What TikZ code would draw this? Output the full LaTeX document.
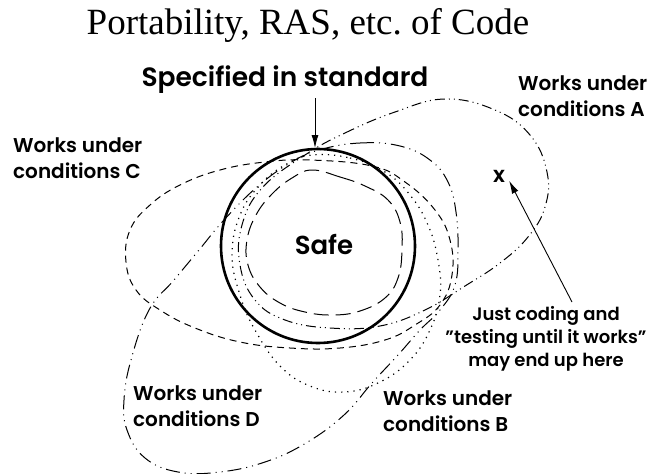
\documentclass[tikz,border=0pt]{standalone}
\usepackage{fontspec}
\setmainfont{Liberation Serif}
\newfontfamily\lblfont{Poppins SemiBold}
\usetikzlibrary{arrows.meta,positioning}

\begin{document}
\begin{tikzpicture}[x=1pt, y=-1pt,
    lbl/.style={font=\lblfont\fontsize{20}{26}\selectfont, align=left, inner sep=0pt},
    arrow/.style={-{Latex[length=13pt,width=7pt]}, line width=0.9pt},
    stdline/.style={line width=2.6pt},
    safeline/.style={line width=1pt, dash pattern=on 15pt off 7pt},
    lineA/.style={line width=1pt, dash pattern=on 10pt off 4pt on 1pt off 4pt on 1pt off 4pt},
    lineB/.style={line width=1.2pt, dash pattern=on 1.2pt off 5pt},
    lineC/.style={line width=1pt, dash pattern=on 7pt off 5pt},
    lineD/.style={line width=1pt, dash pattern=on 14pt off 5pt on 1pt off 5pt on 1pt off 5pt}
]
    \useasboundingbox (0,0) rectangle (649,474);

    % title
    \node[font=\fontsize{37}{40}\selectfont, anchor=base, inner sep=0pt] (title) at (308,34) {Portability, RAS, etc.\ of Code};

    % conditions C
    \draw[lineC] plot[smooth cycle, tension=0.7] coordinates {
        (310,160) (372,166) (405,182) (435,210) (450,240) (452,275) (440,305)
        (415,325) (385,340) (340,348) (290,348) (240,342) (195,328) (160,310)
        (136,290) (126,262) (130,230) (150,205) (180,185) (220,170) (265,162)};
    % conditions A
    \draw[lineA] plot[smooth cycle, tension=0.7] coordinates {
        (305,155) (345,133) (395,112) (445,99) (495,110) (530,135) (547,172)
        (545,207) (528,237) (500,263) (465,286) (425,310) (380,326) (330,328)
        (285,320) (255,300) (240,265) (242,225) (262,188)};
    % conditions B
    \draw[lineB] plot[smooth cycle, tension=0.7] coordinates {
        (312,155) (350,158) (385,172) (410,195) (428,225) (438,260) (440,295)
        (430,330) (410,360) (380,382) (345,392) (310,386) (280,366) (255,330)
        (240,295) (232,255) (240,215) (260,185) (285,165)};
    % conditions D
    \draw[lineD] plot[smooth cycle, tension=0.7] coordinates {
        (319,150) (360,143) (400,146) (430,160) (448,182) (456,212) (458,250)
        (455,285) (440,310) (420,330) (398,355) (372,383) (344,415) (306,443)
        (265,462) (220,472) (178,472) (145,458) (127,430) (124,400) (131,360)
        (149,310) (174,280) (199,250) (224,220) (257,187) (290,163)};
    % safe region
    \draw[safeline] plot[smooth cycle, tension=0.7] coordinates {
        (312,170) (340,177) (365,186) (388,200) (400,222) (402,250) (398,278)
        (385,298) (360,311) (333,315) (305,312) (280,303) (260,287) (248,265)
        (247,240) (256,215) (272,194) (292,178)};
    % standard
    \draw[stdline] (318,246) circle[radius=97];
    \coordinate (stdtop) at (315,148);
    \coordinate (specfoot) at (315,98);

    \node[font=\lblfont\fontsize{26}{30}\selectfont, inner sep=0pt] (safe) at (324,244) {Safe};
    \node[font=\lblfont\fontsize{26.5}{30}\selectfont, inner sep=0pt] (spec) at (285,80) {Specified in standard};
    \draw[arrow] (specfoot) -- (stdtop);

    \node[lbl, anchor=west] (condA) at (518,96) {Works under\\conditions A};
    \node[lbl, anchor=west] (condC) at (13,158) {Works under\\conditions C};
    \node[lbl, anchor=west] (condD) at (133,406) {Works under\\conditions D};
    \node[lbl, anchor=west] (condB) at (383,411) {Works under\\conditions B};

    \node[font=\lblfont\fontsize{22}{26}\selectfont, inner sep=4pt] (xmark) at (499,176) {x};
    \node[font=\lblfont\fontsize{18}{23}\selectfont, align=center, inner sep=0pt] (note) at (546,339)
        {Just coding and\\\textquotedblright testing until it works\textquotedblright\\may end up here};
    \coordinate (notetop) at (572,302);
    \draw[arrow] (notetop) -- (xmark.-25);
\end{tikzpicture}
\end{document}
